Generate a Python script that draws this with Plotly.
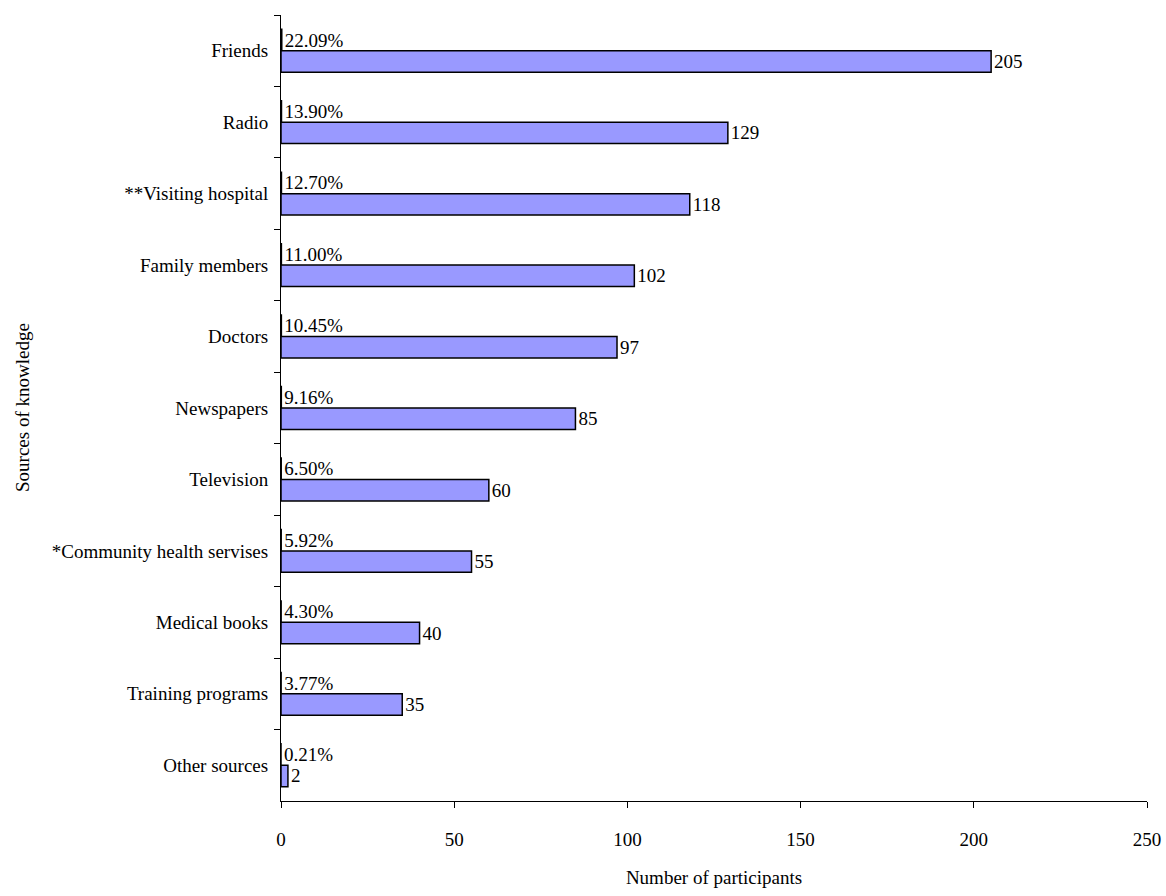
import plotly.graph_objects as go

categories = ["Friends", "Radio", "**Visiting hospital", "Family members", "Doctors",
              "Newspapers", "Television", "*Community health servises", "Medical books",
              "Training programs", "Other sources"]
counts = [205, 129, 118, 102, 97, 85, 60, 55, 40, 35, 2]
percents = [22.09, 13.90, 12.70, 11.00, 10.45, 9.16, 6.50, 5.92, 4.30, 3.77, 0.21]
x_ticks = [0, 50, 100, 150, 200, 250]

FONT = "Liberation Serif"

fig = go.Figure()
fig.add_trace(go.Bar(
    y=categories, x=[p / 100 for p in percents], orientation="h",
    marker=dict(color="#9999FF", line=dict(color="black", width=1.5)),
    text=[f"{p:.2f}%" for p in percents], textposition="outside",
    textfont=dict(family=FONT, size=19, color="black"), cliponaxis=False,
    showlegend=False,
))
fig.add_trace(go.Bar(
    y=categories, x=counts, orientation="h",
    marker=dict(color="#9999FF", line=dict(color="black", width=1.5)),
    text=[str(c) for c in counts], textposition="outside",
    textfont=dict(family=FONT, size=19, color="black"), cliponaxis=False,
    showlegend=False,
))

fig.update_layout(
    width=1166, height=896,
    margin=dict(l=281, r=19, t=15, b=95),
    barmode="group", bargap=0.4, bargroupgap=0,
    plot_bgcolor="white", paper_bgcolor="white",
    font=dict(family=FONT, size=19, color="black"),
)
fig.update_xaxes(
    range=[0, 250], tickvals=x_ticks, ticktext=[str(t) for t in x_ticks],
    showgrid=False, zeroline=False, showline=True, linecolor="black", linewidth=1,
    ticks="outside", ticklen=6, tickcolor="black",
    ticklabelstandoff=15, automargin=False,
    tickfont=dict(family=FONT, size=19),
    title=dict(text="Number of participants", font=dict(family=FONT, size=19), standoff=21),
)
fig.update_yaxes(
    categoryorder="array", categoryarray=categories, autorange="reversed",
    showgrid=False, zeroline=False, showline=True, linecolor="black", linewidth=1,
    ticks="outside", ticklen=6, tickcolor="black", tickson="boundaries",
    ticklabelstandoff=8, automargin=False,
    tickfont=dict(family=FONT, size=19),
)
fig.add_annotation(text="Sources of knowledge", textangle=-90, xref="paper", yref="paper",
                   x=(22 - 281) / 866, xanchor="center", y=0.5, yanchor="middle",
                   showarrow=False, font=dict(family=FONT, size=19))
fig.write_html(
    "out.html",
    config={"displayModeBar": False},
    post_script="document.body.style.margin='0';document.body.style.overflow='hidden';"
                "document.documentElement.style.overflow='hidden';",
)
